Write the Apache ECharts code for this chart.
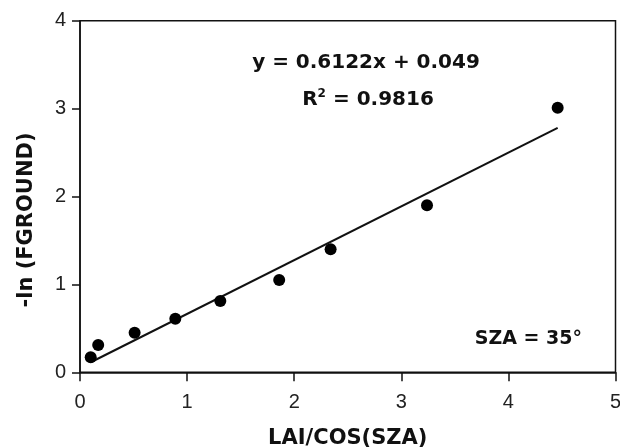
<!DOCTYPE html>
<html>
<head>
<meta charset="utf-8">
<script src="https://cdn.jsdelivr.net/npm/echarts@6/dist/echarts.min.js"></script>
<style>
  html, body { margin: 0; padding: 0; background: #fff; }
  #main { width: 620px; height: 448px; }
</style>
</head>
<body>
<div id="main"></div>
<script>
// measured points
var lai = [0.10, 0.17, 0.51, 0.89, 1.31, 1.86, 2.34, 3.24, 4.46];
var lnFground = [0.17, 0.31, 0.45, 0.61, 0.81, 1.05, 1.40, 1.90, 3.01];
// fitted line ends
var fitX = [0.11, 4.46];
var fitY = [0.12, 2.78];

var xTicks = [0, 1, 2, 3, 4, 5];
var yTicks = [0, 1, 2, 3, 4];

var chart = echarts.init(document.getElementById("main"));

var tickFont = { fontFamily: "Liberation Sans", fontSize: 20, color: "#222" };

chart.setOption({
  animation: false,
  grid: {
    left: 80, right: 4.5, top: 20.7, bottom: 75.7,
    containLabel: false,
    outerBoundsMode: "none",
    show: true, borderColor: "#111", borderWidth: 1.5
  },
  xAxis: {
    type: "value",
    min: xTicks[0], max: xTicks[xTicks.length - 1], interval: 1,
    name: "LAI/COS(SZA)",
    nameLocation: "middle",
    nameGap: 56,
    nameTextStyle: { fontFamily: "DejaVu Sans", fontWeight: "bold", fontSize: 21, color: "#111" },
    axisLine: { show: true, lineStyle: { color: "#111", width: 1.5 } },
    axisTick: { show: true, inside: false, length: 9, lineStyle: { color: "#111", width: 1.5 } },
    axisLabel: Object.assign({ margin: 20 }, tickFont),
    splitLine: { show: false }
  },
  yAxis: {
    type: "value",
    min: yTicks[0], max: yTicks[yTicks.length - 1], interval: 1,
    axisLine: { show: true, lineStyle: { color: "#111", width: 1.5 } },
    axisTick: { show: true, inside: false, length: 8, lineStyle: { color: "#111", width: 1.5 } },
    axisLabel: Object.assign({ margin: 14 }, tickFont),
    splitLine: { show: false }
  },
  graphic: [
    {
      type: "text", x: 27, y: 220, rotation: Math.PI / 2,
      style: {
        text: "-ln (FGROUND)", fill: "#111",
        font: "bold 21px 'DejaVu Sans'",
        textAlign: "center", textVerticalAlign: "middle"
      }
    },
    {
      type: "text", x: 366, y: 63,
      style: {
        text: "y = 0.6122x + 0.049", fill: "#111",
        font: "bold 20px 'DejaVu Sans'",
        textAlign: "center", textVerticalAlign: "middle"
      }
    },
    {
      type: "text", x: 368, y: 100,
      style: {
        text: "{b|R}{s|2}{b| = 0.9816}", fill: "#111",
        textAlign: "center", textVerticalAlign: "middle",
        rich: {
          b: { fontFamily: "DejaVu Sans", fontWeight: "bold", fontSize: 20, fill: "#111" },
          s: { fontFamily: "DejaVu Sans", fontWeight: "bold", fontSize: 12, fill: "#111", padding: [0, 0, 12, 0] }
        }
      }
    },
    {
      type: "text", x: 582, y: 339,
      style: {
        text: "SZA = 35°", fill: "#111",
        font: "bold 19px 'DejaVu Sans'",
        textAlign: "right", textVerticalAlign: "middle"
      }
    }
  ],
  series: [
    {
      type: "line",
      data: fitX.map(function (x, i) { return [x, fitY[i]]; }),
      symbol: "none",
      lineStyle: { color: "#111", width: 2 },
      z: 2
    },
    {
      type: "scatter",
      data: lai.map(function (x, i) { return [x, lnFground[i]]; }),
      symbol: "circle",
      symbolSize: 12,
      itemStyle: { color: "#000", opacity: 1 },
      z: 3
    }
  ]
});
</script>
</body>
</html>
